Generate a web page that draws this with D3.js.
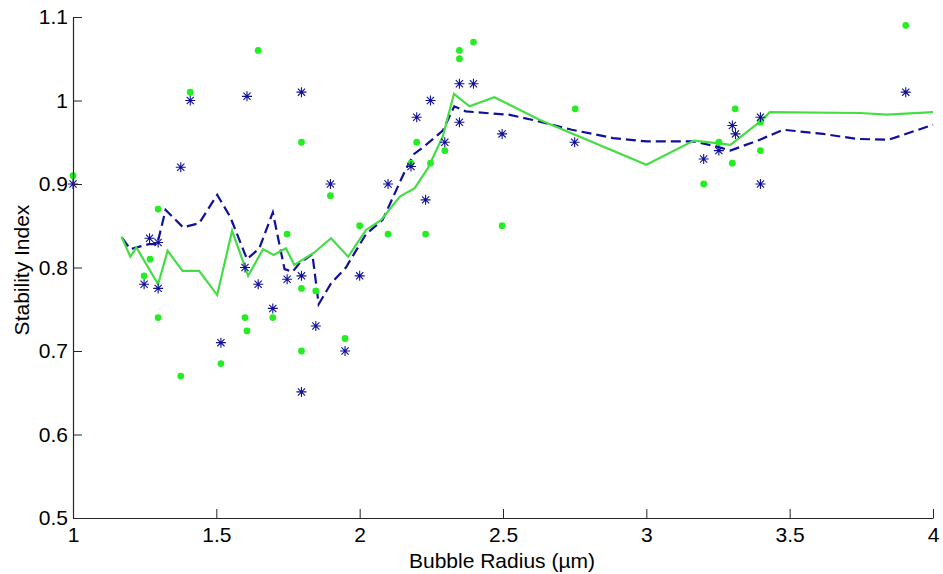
<!DOCTYPE html>
<html>
<head>
<meta charset="utf-8">
<script src="https://cdn.jsdelivr.net/npm/d3@7"></script>
<style>
  html, body { margin: 0; padding: 0; background: #fff; }
  svg { display: block; }
  text { font-family: "Liberation Sans", Arial, sans-serif; }
</style>
</head>
<body>
<svg id="chart" width="943" height="574"></svg>
<script>
// ---- data ----
const greenPoints = [
  [1.0, 0.91], [1.248, 0.79], [1.269, 0.81], [1.297, 0.87], [1.297, 0.74],
  [1.376, 0.67], [1.409, 1.01], [1.516, 0.685], [1.60, 0.74], [1.607, 0.724],
  [1.646, 1.06], [1.697, 0.74], [1.747, 0.84], [1.797, 0.95], [1.797, 0.775],
  [1.797, 0.70], [1.847, 0.772], [1.898, 0.886], [1.949, 0.715], [2.0, 0.85],
  [2.099, 0.84], [2.179, 0.925], [2.199, 0.95], [2.23, 0.84], [2.247, 0.925],
  [2.297, 0.94], [2.348, 1.06], [2.348, 1.05], [2.397, 1.07], [2.497, 0.85],
  [2.752, 0.99], [3.2, 0.90], [3.253, 0.95], [3.30, 0.925], [3.31, 0.99],
  [3.398, 0.974], [3.398, 0.94], [3.905, 1.09]
];
const bluePoints = [
  [1.0, 0.90], [1.248, 0.78], [1.267, 0.835], [1.297, 0.83], [1.297, 0.775],
  [1.376, 0.92], [1.409, 1.0], [1.516, 0.71], [1.60, 0.80], [1.607, 1.005],
  [1.646, 0.78], [1.697, 0.751], [1.747, 0.786], [1.797, 1.01], [1.797, 0.79],
  [1.797, 0.651], [1.847, 0.73], [1.898, 0.90], [1.949, 0.70], [2.0, 0.79],
  [2.099, 0.90], [2.179, 0.921], [2.199, 0.98], [2.23, 0.881], [2.247, 1.0],
  [2.297, 0.95], [2.348, 1.02], [2.348, 0.974], [2.397, 1.02], [2.497, 0.96],
  [2.75, 0.95], [3.2, 0.93], [3.253, 0.94], [3.30, 0.97], [3.311, 0.96],
  [3.398, 0.98], [3.398, 0.90], [3.905, 1.01]
];
const greenLine = [
  [1.169, 0.837], [1.2, 0.813], [1.221, 0.824], [1.297, 0.78], [1.33, 0.82],
  [1.382, 0.796], [1.44, 0.796], [1.503, 0.767], [1.555, 0.844], [1.611, 0.79],
  [1.663, 0.822], [1.70, 0.815], [1.743, 0.823], [1.772, 0.803], [1.842, 0.818],
  [1.9, 0.835], [1.96, 0.813], [2.022, 0.845], [2.075, 0.857], [2.14, 0.885],
  [2.192, 0.895], [2.238, 0.919], [2.29, 0.957], [2.329, 1.008], [2.383, 0.993],
  [2.47, 1.004], [2.627, 0.977], [3.0, 0.923], [3.166, 0.952], [3.244, 0.949],
  [3.293, 0.947], [3.398, 0.975], [3.431, 0.986], [3.745, 0.985], [3.84, 0.983],
  [4.0, 0.986]
];
const blueLine = [
  [1.172, 0.835], [1.2, 0.822], [1.265, 0.828], [1.294, 0.828], [1.323, 0.869],
  [1.384, 0.848], [1.44, 0.853], [1.503, 0.887], [1.548, 0.861], [1.607, 0.81],
  [1.65, 0.823], [1.697, 0.866], [1.738, 0.798], [1.766, 0.795], [1.79, 0.805],
  [1.835, 0.816], [1.857, 0.756], [1.9, 0.781], [1.952, 0.80], [2.022, 0.84],
  [2.08, 0.857], [2.16, 0.917], [2.19, 0.936], [2.218, 0.943], [2.29, 0.964],
  [2.33, 0.993], [2.37, 0.987], [2.44, 0.985], [2.52, 0.983], [2.6, 0.977],
  [2.74, 0.965], [2.884, 0.955], [3.0, 0.951], [3.163, 0.951], [3.244, 0.945],
  [3.293, 0.94], [3.396, 0.953], [3.477, 0.965], [3.617, 0.96], [3.733, 0.954],
  [3.845, 0.953], [3.897, 0.959], [4.0, 0.971]
];
const xTicks = [1, 1.5, 2, 2.5, 3, 3.5, 4];
const yTicks = [0.5, 0.6, 0.7, 0.8, 0.9, 1, 1.1];
const xLabel = "Bubble Radius (\u00b5m)";
const yLabel = "Stability Index";

// ---- layout ----
const svg = d3.select("#chart");
const mLeft = 73, mRight = 933, mTop = 17, mBottom = 518;
const x = d3.scaleLinear().domain([1, 4]).range([mLeft, mRight]);
const y = d3.scaleLinear().domain([0.5, 1.1]).range([mBottom, mTop]);

const GREEN = "#22ee22", GREEN_LINE = "#44dd44", BLUE = "#10109a";

// lines
const line = d3.line().x(d => x(d[0])).y(d => y(d[1]));
svg.append("path").datum(blueLine)
  .attr("d", line).attr("fill", "none")
  .attr("stroke", BLUE).attr("stroke-width", 2.2)
  .attr("stroke-dasharray", "10,5");
svg.append("path").datum(greenLine)
  .attr("d", line).attr("fill", "none")
  .attr("stroke", GREEN_LINE).attr("stroke-width", 2.2);

// green dots
svg.append("g").selectAll("circle").data(greenPoints).join("circle")
  .attr("cx", d => x(d[0])).attr("cy", d => y(d[1]))
  .attr("r", 3.4).attr("fill", GREEN);

// blue stars
const s = 5, sd = 3.6;
const starPath = `M${-s},0L${s},0M0,${-s}L0,${s}M${-sd},${-sd}L${sd},${sd}M${-sd},${sd}L${sd},${-sd}`;
svg.append("g").selectAll("path").data(bluePoints).join("path")
  .attr("transform", d => `translate(${x(d[0])},${y(d[1])})`)
  .attr("d", starPath).attr("fill", "none")
  .attr("stroke", BLUE).attr("stroke-width", 1.1);

// axes
const xAxis = d3.axisBottom(x).tickValues(xTicks).tickFormat(d3.format("~g"))
  .tickSizeInner(-9).tickSizeOuter(0).tickPadding(9);
const yAxis = d3.axisLeft(y).tickValues(yTicks).tickFormat(d3.format("~g"))
  .tickSizeInner(-9).tickSizeOuter(0).tickPadding(5);

const gx = svg.append("g").attr("transform", `translate(0,${mBottom})`).call(xAxis);
const gy = svg.append("g").attr("transform", `translate(${mLeft},0)`).call(yAxis);
[gx, gy].forEach(g => {
  g.select(".domain").attr("stroke", "#262626").attr("stroke-width", 1.2);
  g.selectAll(".tick line").attr("stroke", "#262626").attr("stroke-width", 1);
  g.selectAll(".tick text").attr("fill", "#000")
    .style("font-family", "'Liberation Sans', Arial, sans-serif").style("font-size", "21px");
});

// labels
svg.append("text").attr("x", 502).attr("y", 568).attr("text-anchor", "middle")
  .style("font-size", "21px").attr("fill", "#000").text(xLabel);
svg.append("text").attr("transform", "translate(29,270) rotate(-90)")
  .attr("text-anchor", "middle").style("font-size", "21px").attr("fill", "#000").text(yLabel);
</script>
</body>
</html>
